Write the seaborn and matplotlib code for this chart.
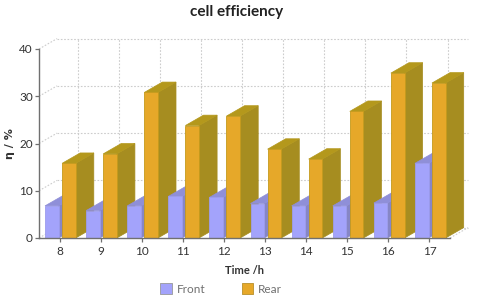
import matplotlib
matplotlib.use("Agg")
import matplotlib.pyplot as plt
import pandas as pd
import seaborn as sns
from matplotlib.patches import Polygon

hours = [8, 9, 10, 11, 12, 13, 14, 15, 16, 17]
front = [6.8, 5.8, 6.8, 8.8, 8.6, 7.3, 6.8, 6.8, 7.4, 15.8]
rear = [15.8, 17.8, 30.8, 23.8, 25.8, 18.8, 16.7, 26.8, 34.9, 32.8]
yticks = [0, 10, 20, 30, 40]

# depth of the fake 3d, in data units
depth_x = 0.44
depth_y = 2.2

colors = {"Front": "#a3a3fb", "Rear": "#e6a829"}
side_colors = {"Front": "#8686c6", "Rear": "#a68d20"}
top_colors = {"Front": "#8f8fd8", "Rear": "#b4981c"}
edge_colors = {"Front": "#9c9cec", "Rear": "#c49a1c"}

sns.set_theme(style="white")
plt.rcParams["font.family"] = ["Lato", "DejaVu Sans"]

df = pd.DataFrame({"hour": hours * 2,
                   "value": front + rear,
                   "series": ["Front"] * len(front) + ["Rear"] * len(rear)})

fig = plt.figure(figsize=(4.8, 2.99), dpi=100)
ax = fig.add_axes([39 / 480, 1 - 238 / 299, 411 / 480, 189 / 299])

sns.barplot(data=df, x="hour", y="value", hue="series", order=hours,
            hue_order=["Front", "Rear"], palette=colors, width=0.83, gap=0.2,
            saturation=1, errorbar=None, ax=ax)

ax.set_xlim(-0.5, len(hours) - 0.5)
ax.set_ylim(0, 40)

# back wall grid and the slanted lines running to it
grid = dict(color="#cccccc", lw=0.8, ls=(0, (1.5, 1.5)), clip_on=False, zorder=0.5)
for t in yticks:
    ax.plot([-0.5, -0.5 + depth_x], [t, t + depth_y], **grid)
    ax.plot([-0.5 + depth_x, len(hours) - 0.5 + depth_x], [t + depth_y, t + depth_y], **grid)
for i in range(len(hours)):
    ax.plot([i + depth_x, i + depth_x], [depth_y, 40 + depth_y], **grid)
ax.plot([len(hours) - 0.5, len(hours) - 0.5 + depth_x], [0, depth_y], **grid)

# add side and top faces, left to right so each bar covers the last one's side
bars = []
for container, name in zip(ax.containers, ["Front", "Rear"]):
    for bar in container:
        bars.append((bar, name))
bars.sort(key=lambda b: b[0].get_x())

z = 2
for bar, name in bars:
    bar.set_x(bar.get_x() + 0.02)
    x0 = bar.get_x()
    x1 = x0 + bar.get_width()
    h = bar.get_height()
    side = Polygon([(x1, 0), (x1 + depth_x, depth_y), (x1 + depth_x, h + depth_y), (x1, h)],
                   facecolor=side_colors[name], edgecolor=side_colors[name], lw=0.5,
                   clip_on=False, zorder=z)
    top = Polygon([(x0, h), (x0 + depth_x, h + depth_y), (x1 + depth_x, h + depth_y), (x1, h)],
                  facecolor=top_colors[name], edgecolor=top_colors[name], lw=0.5,
                  clip_on=False, zorder=z)
    ax.add_patch(side)
    ax.add_patch(top)
    bar.set_edgecolor(edge_colors[name])
    bar.set_linewidth(0.6)
    bar.set_zorder(z + 0.1)
    z += 0.2

sns.despine(ax=ax)
for s in ["left", "bottom"]:
    ax.spines[s].set_color("#707070")
    ax.spines[s].set_linewidth(1.0)
    ax.spines[s].set_zorder(20)

ax.set_yticks(yticks)
ax.tick_params(axis="both", length=3, width=0.9, color="#707070", labelsize=8.5,
               labelcolor="#333333", pad=2.5, bottom=True, left=True)
ax.tick_params(axis="y", pad=1.5)
ax.set_xlabel("Time /h", fontsize=8, fontweight="bold", color="#333333", labelpad=6)
ax.set_ylabel("η / %", fontsize=8, fontweight="bold", color="#333333", labelpad=3,
              family=["DejaVu Sans"])

fig.text(237 / 480, 1 - 12 / 299, "cell efficiency", ha="center", va="center",
         fontsize=11, fontweight="bold", color="#222222")

handles, labels = ax.get_legend_handles_labels()
ax.legend_.remove()
leg = fig.legend(handles, labels, ncol=2, loc="center", bbox_to_anchor=(221 / 480, 1 - 289 / 299),
                 frameon=False, fontsize=8.5, handlelength=0.95, handleheight=0.95,
                 handletextpad=0.4, columnspacing=3.1, labelcolor="#707070")
for h, name in zip(leg.get_patches(), labels):
    h.set_edgecolor("#999999" if name == "Front" else "#b8902a")
    h.set_linewidth(0.6)
    h.set_joinstyle("round")

fig.savefig("out.png", dpi=100)
